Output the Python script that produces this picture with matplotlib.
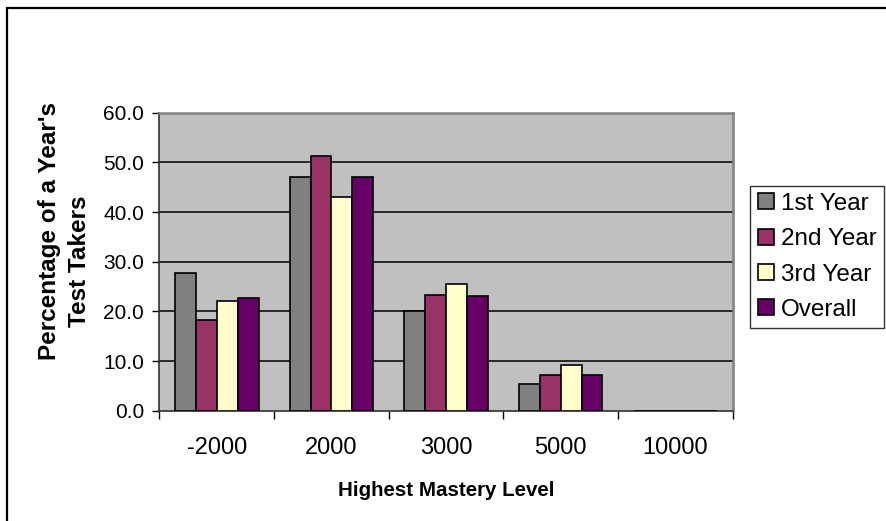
import matplotlib
matplotlib.use("Agg")
import matplotlib.pyplot as plt
from matplotlib.patches import Rectangle
from matplotlib.ticker import FixedLocator
import numpy as np

plt.rcParams['font.family'] = ['Liberation Sans', 'DejaVu Sans']

categories = ["-2000", "2000", "3000", "5000", "10000"]
series_names = ["1st Year", "2nd Year", "3rd Year", "Overall"]
first_year = [27.7, 47.0, 20.1, 5.3, 0.0]
second_year = [18.3, 51.3, 23.3, 7.1, 0.0]
third_year = [22.1, 43.0, 25.6, 9.3, 0.0]
overall = [22.6, 47.1, 23.0, 7.2, 0.0]
y_ticks = [0, 10, 20, 30, 40, 50, 60]

colors = ["#808080", "#993366", "#FFFFCC", "#660066"]
series = [first_year, second_year, third_year, overall]

fig = plt.figure(figsize=(8.87, 5.21), dpi=100)
ax = fig.add_axes([159.5 / 887, 1 - 410.7 / 521, 573.2 / 887, 298.0 / 521])
ax.set_facecolor("#C0C0C0")

x = np.arange(len(categories))
bw = 0.182
for i, (vals, col, name) in enumerate(zip(series, colors, series_names)):
    ax.bar(x + (i - 1.5) * bw, vals, width=bw, color=col, edgecolor="black",
           linewidth=1.2, label=name, zorder=3)

ax.set_xlim(-0.5, len(categories) - 0.5)
ax.set_ylim(0, 60)
ax.set_yticks(y_ticks)
ax.set_yticklabels([f"{v:.1f}" for v in y_ticks])
for v in y_ticks[1:-1]:
    ax.axhline(v, color="black", linewidth=1.1, zorder=1)

ax.set_xticks(x)
ax.set_xticklabels(categories)
ax.xaxis.set_minor_locator(FixedLocator(np.arange(-0.5, len(categories), 1.0)))
ax.tick_params(axis="x", which="major", length=0, labelsize=17, pad=19)
ax.tick_params(axis="x", which="minor", length=6, width=1, direction="out", color="black")
ax.tick_params(axis="y", which="major", length=5, width=1, direction="out",
               labelsize=15, pad=6)

for side in ("left", "bottom"):
    ax.spines[side].set_color("#303030")
    ax.spines[side].set_linewidth(1.2)
for side in ("top", "right"):
    ax.spines[side].set_color("#808080")
    ax.spines[side].set_linewidth(1.8)

ax.set_xlabel("Highest Mastery Level", fontsize=14.8, fontweight="bold", labelpad=16)

# Two-line vertical axis title, each line placed on its own
title_kw = dict(rotation=90, fontsize=17.5, fontweight="bold",
                ha="center", va="center", transform=fig.transFigure)
fig.text(50 / 887, 1 - 231 / 521, "Percentage of a Year's", **title_kw)
fig.text(80 / 887, 1 - 261 / 521, "Test Takers", **title_kw)

leg = ax.legend(loc="upper left", bbox_to_anchor=(750.5 / 887, 1 - 185.5 / 521),
                bbox_transform=fig.transFigure, frameon=True, fancybox=False,
                edgecolor="black", fontsize=17.5, handlelength=0.65, handleheight=0.65,
                handletextpad=0.3, borderpad=0.3, labelspacing=0.55, borderaxespad=0)
leg.get_frame().set_linewidth(1.0)

fig.add_artist(Rectangle((7 / 887, -0.1), 1.2, 1.1 - 7.5 / 521, transform=fig.transFigure,
                         fill=False, edgecolor="black", linewidth=1.6, clip_on=False))

fig.savefig("out.png", dpi=100)
